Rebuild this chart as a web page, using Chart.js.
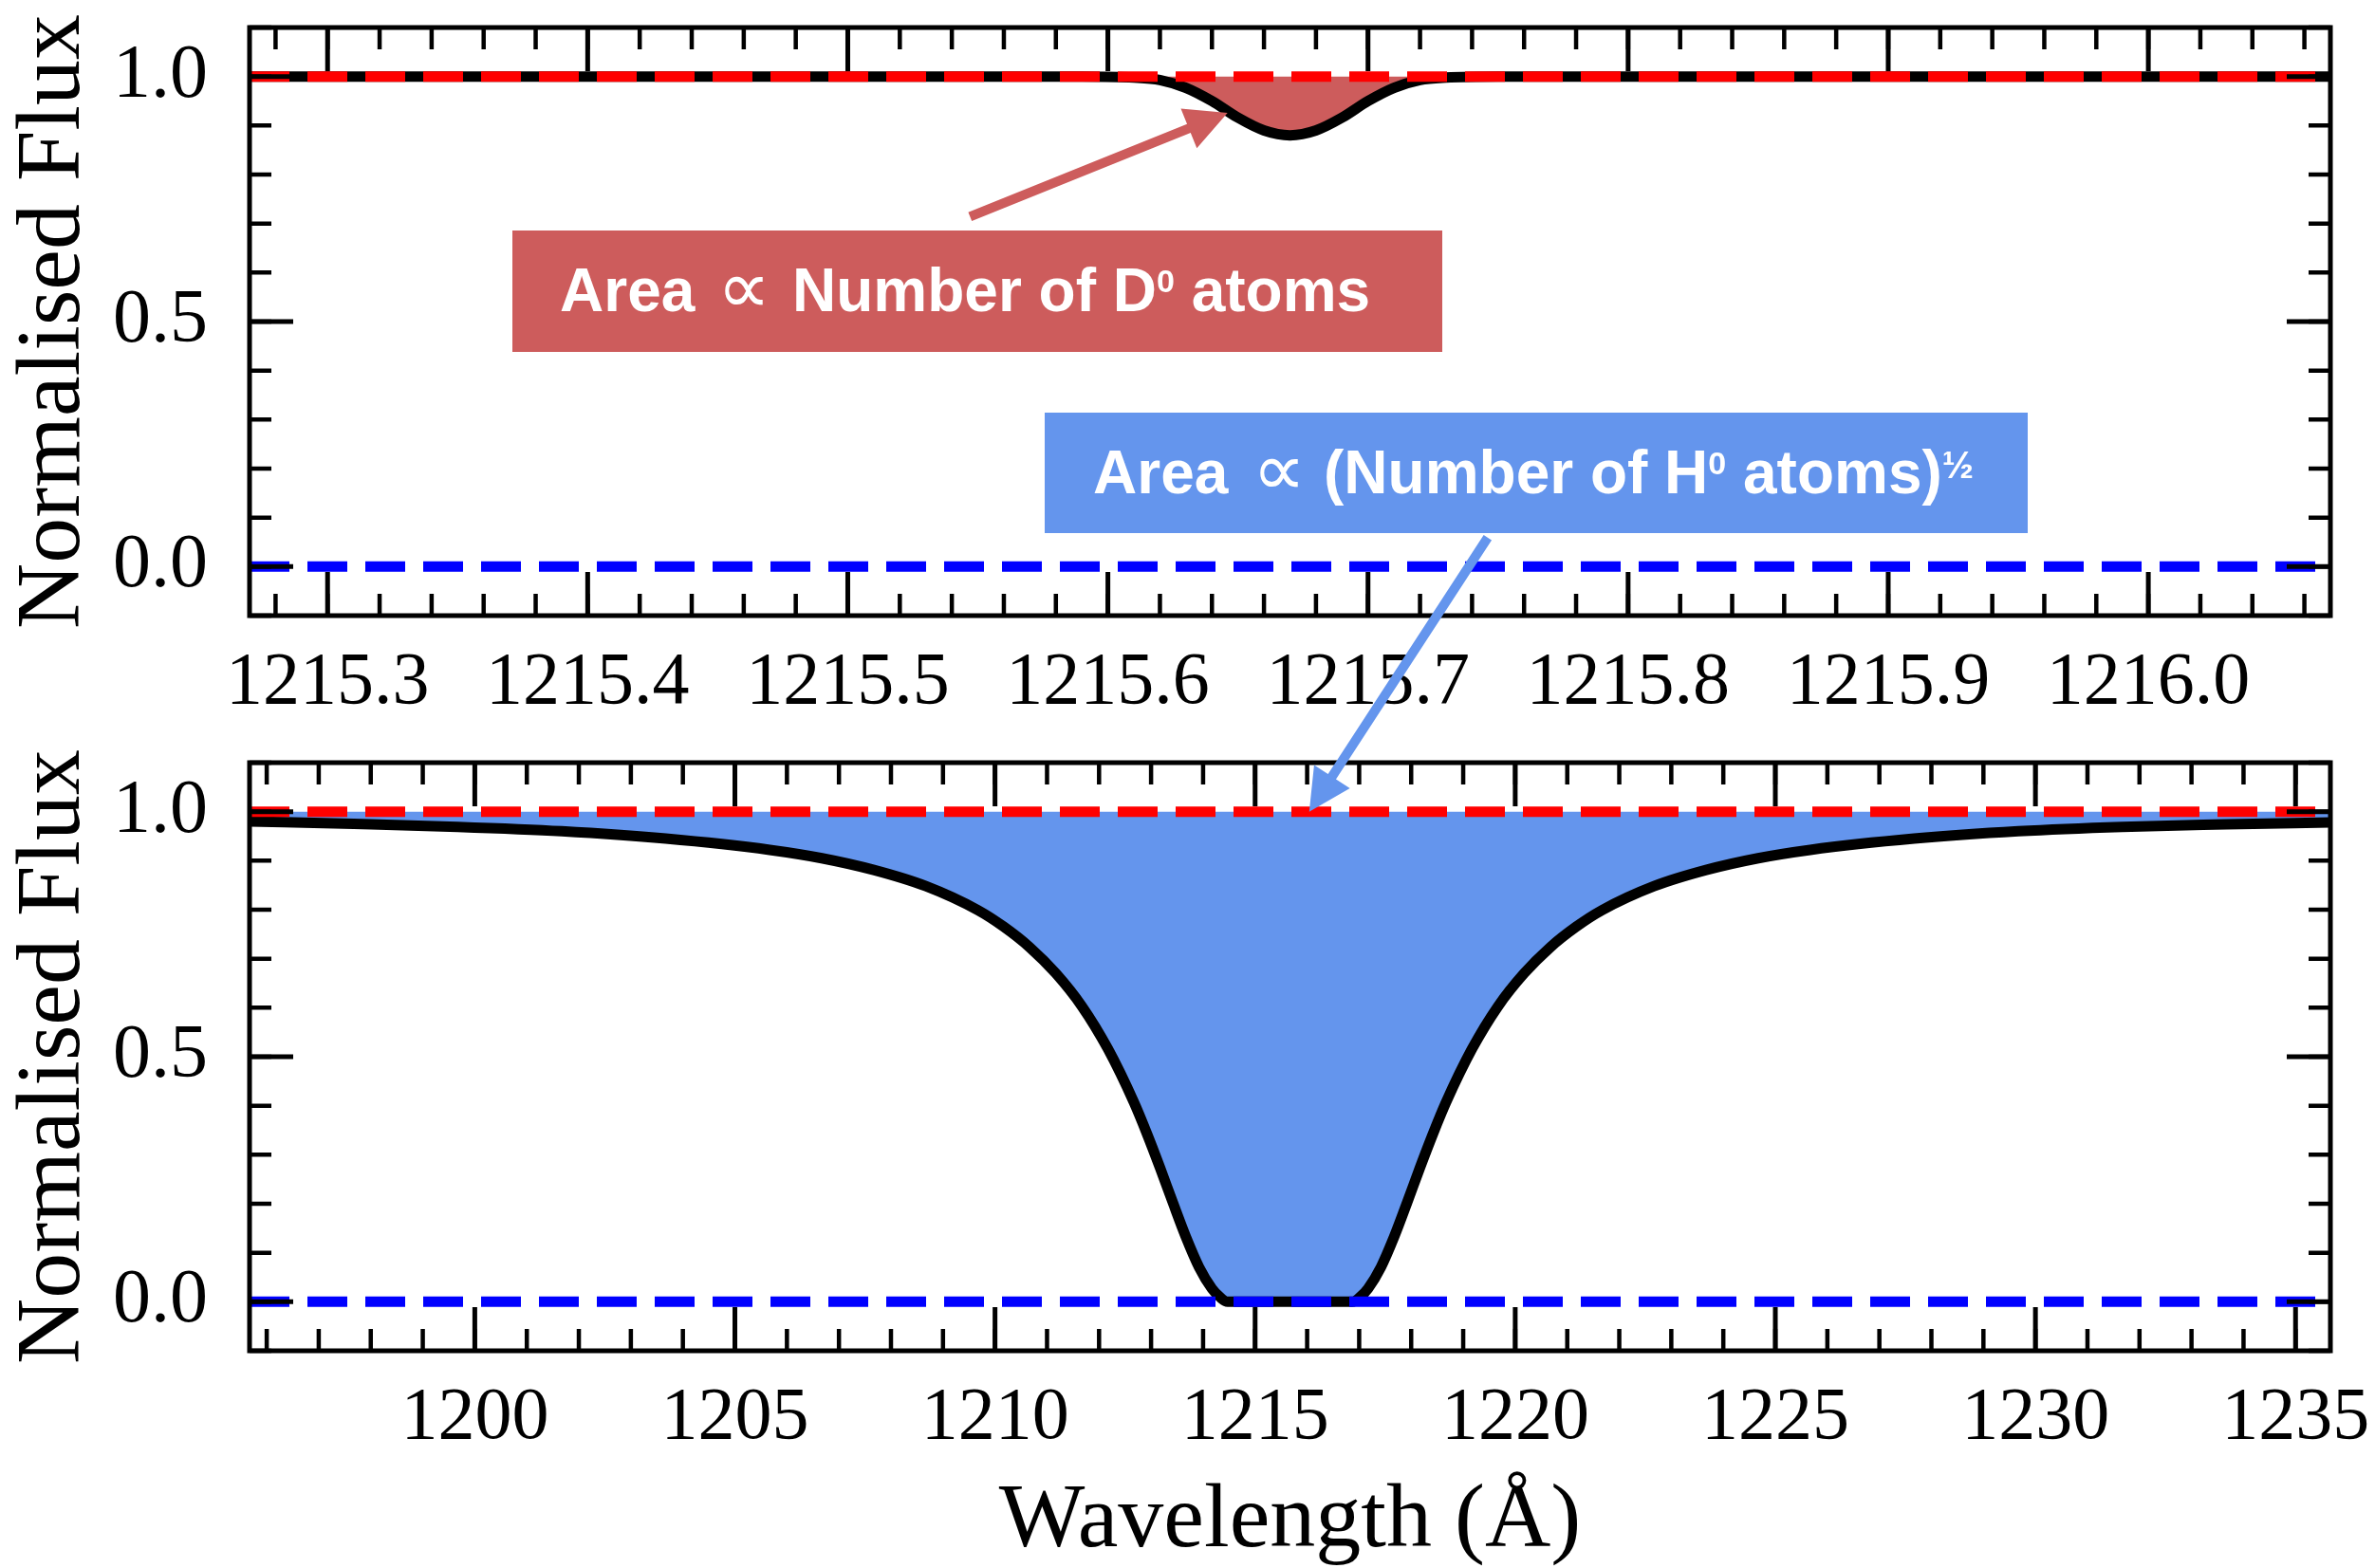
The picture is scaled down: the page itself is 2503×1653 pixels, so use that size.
<!DOCTYPE html>
<html lang="en">
<head>
<meta charset="UTF-8" />
<title>Lyman-alpha absorption: D and H</title>
<script src="https://cdn.jsdelivr.net/npm/chart.js@4"></script>
<style>
  body { margin: 0; background: #fff; }
  #wrap { position: relative; width: 2503px; height: 1653px; }
  canvas { position: absolute; left: 0; }
  #top { top: 0; }
  #bottom { top: 780px; }
  #notes { top: 0; pointer-events: none; }
</style>
</head>
<body>
<div id="wrap">
  <canvas id="top" width="2503" height="780"></canvas>
  <canvas id="bottom" width="2503" height="873"></canvas>
  <canvas id="notes" width="2503" height="1653"></canvas>
</div>

<script>
  // ---- values ----
  // top panel: deuterium line (narrow, shallow)
  const deutWave = [1215.27, 1215.59, 1215.61, 1215.62, 1215.63, 1215.64, 1215.65, 1215.66, 1215.67,
                    1215.68, 1215.69, 1215.70, 1215.71, 1215.72, 1215.73, 1215.75, 1216.07];
  const deutFlux = [1.000, 1.000, 0.998, 0.993, 0.977, 0.950, 0.916, 0.890, 0.880,
                    0.890, 0.916, 0.950, 0.977, 0.993, 0.998, 1.000, 1.000];

  // bottom panel: hydrogen line (saturated core, damping wings)
  const hydWave = [1195.67, 1197.67, 1199.67, 1201.67, 1203.67, 1205.67, 1206.67, 1207.67, 1208.67, 1209.67,
                   1210.17, 1210.67, 1211.17, 1211.67, 1212.17, 1212.67, 1212.92, 1213.17, 1213.42, 1213.67,
                   1213.92, 1214.17, 1214.32, 1214.47,
                   1216.87, 1217.02, 1217.17, 1217.42, 1217.67, 1217.92, 1218.17, 1218.42, 1218.67, 1219.17,
                   1219.67, 1220.17, 1220.67, 1221.17, 1221.67, 1222.67, 1223.67, 1224.67, 1225.67, 1227.67,
                   1229.67, 1231.67, 1233.67, 1235.67];
  const hydFlux = [0.980, 0.975, 0.969, 0.960, 0.945, 0.922, 0.905, 0.881, 0.848, 0.799,
                   0.765, 0.723, 0.670, 0.603, 0.516, 0.407, 0.343, 0.274, 0.202, 0.132,
                   0.071, 0.027, 0.010, 0.000,
                   0.000, 0.010, 0.027, 0.071, 0.132, 0.202, 0.274, 0.343, 0.407, 0.516,
                   0.603, 0.670, 0.723, 0.765, 0.799, 0.848, 0.881, 0.905, 0.922, 0.945,
                   0.960, 0.969, 0.974, 0.978];

  const continuumLevel = 1.0;
  const zeroLevel = 0.0;

  const topRange = [1215.27, 1216.07];
  const bottomRange = [1195.67, 1235.67];
  const fluxRange = [-0.1, 1.1];

  const topTicks = [1215.3, 1215.4, 1215.5, 1215.6, 1215.7, 1215.8, 1215.9, 1216.0];
  const topTickLabels = ['1215.3', '1215.4', '1215.5', '1215.6', '1215.7', '1215.8', '1215.9', '1216.0'];
  const bottomTicks = [1200, 1205, 1210, 1215, 1220, 1225, 1230, 1235];
  const bottomTickLabels = ['1200', '1205', '1210', '1215', '1220', '1225', '1230', '1235'];
  const fluxTicks = [0, 0.5, 1.0];
  const fluxTickLabels = ['0.0', '0.5', '1.0'];

  const topMinorStep = 0.02;
  const bottomMinorStep = 1;
  const fluxMinorStep = 0.1;

  // arrows, given in data coordinates of the panel they sit in
  const redArrow  = { from: ['top', 1215.547, 0.714], to: ['top', 1215.646, 0.926] };
  const blueArrow = { from: ['top', 1215.746, 0.059], to: ['bottom', 1216.04, 1.0] };

  const serif = "'Liberation Serif', 'DejaVu Serif', serif";
  const sans = "'Liberation Sans', Arial, sans-serif";

  // border + inward ticks on all four sides, drawn over the data like matplotlib does
  function framePlugin(xMinorStep) {
    return {
      id: 'frame',
      afterDraw(chart) {
        const { ctx, chartArea: a, scales: { x, y } } = chart;
        ctx.save();
        ctx.strokeStyle = '#000';
        ctx.lineCap = 'butt';

        function xTick(v, len, w) {
          const p = x.getPixelForValue(v);
          ctx.lineWidth = w;
          ctx.beginPath();
          ctx.moveTo(p, a.bottom); ctx.lineTo(p, a.bottom - len);
          ctx.moveTo(p, a.top); ctx.lineTo(p, a.top + len);
          ctx.stroke();
        }
        function yTick(v, len, w) {
          const p = y.getPixelForValue(v);
          ctx.lineWidth = w;
          ctx.beginPath();
          ctx.moveTo(a.left, p); ctx.lineTo(a.left + len, p);
          ctx.moveTo(a.right, p); ctx.lineTo(a.right - len, p);
          ctx.stroke();
        }

        for (let k = Math.ceil(x.min / xMinorStep - 1e-6); k <= Math.floor(x.max / xMinorStep + 1e-6); k++) xTick(k * xMinorStep, 23, 4.5);
        for (let k = Math.ceil(y.min / fluxMinorStep - 1e-6); k <= Math.floor(y.max / fluxMinorStep + 1e-6); k++) yTick(k * fluxMinorStep, 23, 4.5);
        x.ticks.forEach(t => xTick(t.value, 46, 5));
        y.ticks.forEach(t => yTick(t.value, 46, 5));

        ctx.lineWidth = 5;
        ctx.strokeRect(a.left, a.top, a.right - a.left, a.bottom - a.top);
        ctx.restore();
      }
    };
  }

  function refLine(range, level, color) {
    return {
      data: range.map(x => ({ x, y: level })),
      borderColor: color, borderWidth: 11, borderDash: [42, 19],
      pointRadius: 0, fill: false
    };
  }

  function makePanel(id, waves, flux, fillColor, range, ticks, labels, minorStep, padTop, axisH, xTitle) {
    return new Chart(document.getElementById(id), {
      type: 'line',
      data: {
        datasets: [
          refLine(range, continuumLevel, '#ff0000'),
          refLine(range, zeroLevel, '#0000ff'),
          {
            data: waves.map((w, i) => ({ x: w, y: flux[i] })),
            borderColor: '#000', borderWidth: 11, borderJoinStyle: 'round',
            cubicInterpolationMode: 'monotone', pointRadius: 0,
            fill: { value: continuumLevel }, backgroundColor: fillColor
          }
        ]
      },
      options: {
        responsive: false, animation: false, devicePixelRatio: 1, events: [],
        layout: { padding: { top: padTop, right: 47, left: 0, bottom: 0 } },
        plugins: { legend: { display: false }, tooltip: { enabled: false } },
        scales: {
          x: {
            type: 'linear', min: range[0], max: range[1],
            grid: { display: false }, border: { display: false },
            afterBuildTicks: s => { s.ticks = ticks.map(v => ({ value: v })); },
            afterFit: s => { s.height = axisH; s.paddingLeft = 0; s.paddingRight = 0; },
            ticks: {
              autoSkip: false, maxRotation: 0, padding: 17, color: '#000',
              font: { family: serif, size: 78 },
              callback: (v, i) => labels[i]
            },
            title: {
              display: !!xTitle, text: xTitle || '', color: '#000',
              font: { family: serif, size: 96, lineHeight: 1 }, padding: { top: 0, bottom: 0 }
            }
          },
          y: {
            min: fluxRange[0], max: fluxRange[1],
            grid: { display: false }, border: { display: false },
            afterBuildTicks: s => { s.ticks = fluxTicks.map(v => ({ value: v })); },
            afterFit: s => { s.width = 263; s.paddingTop = 0; s.paddingBottom = 0; },
            ticks: {
              autoSkip: false, padding: 36, color: '#000',
              font: { family: serif, size: 80 },
              callback: (v, i) => fluxTickLabels[i]
            },
            title: {
              display: true, text: 'Normalised Flux', color: '#000',
              font: { family: serif, size: 96 }, padding: { top: 0, bottom: 0 }
            }
          }
        }
      },
      plugins: [framePlugin(minorStep)]
    });
  }

  const topChart = makePanel('top', deutWave, deutFlux, '#cd5c5c', topRange, topTicks, topTickLabels,
                             topMinorStep, 29, 131, null);
  const bottomChart = makePanel('bottom', hydWave, hydFlux, '#6495ed', bottomRange, bottomTicks, bottomTickLabels,
                                bottomMinorStep, 24, 229, 'Wavelength (Å)');

  // ---- annotation layer (boxes, text, arrows) ----
  const panels = { top: { chart: topChart, dy: 0 }, bottom: { chart: bottomChart, dy: 780 } };

  function toPage([name, x, y]) {
    const p = panels[name];
    return { x: p.chart.scales.x.getPixelForValue(x), y: p.dy + p.chart.scales.y.getPixelForValue(y) };
  }

  function drawArrow(c, a, color) {
    const p0 = toPage(a.from), p1 = toPage(a.to);
    const dx = p1.x - p0.x, dy = p1.y - p0.y, L = Math.hypot(dx, dy);
    const ux = dx / L, uy = dy / L, nx = -uy, ny = ux;
    const headLen = 44, headHalf = 22.5, shaftHalf = 5;
    const bx = p1.x - ux * headLen, by = p1.y - uy * headLen;
    c.fillStyle = color;
    c.beginPath();
    c.moveTo(p0.x + nx * shaftHalf, p0.y + ny * shaftHalf);
    c.lineTo(bx + nx * shaftHalf, by + ny * shaftHalf);
    c.lineTo(bx + nx * headHalf, by + ny * headHalf);
    c.lineTo(p1.x, p1.y);
    c.lineTo(bx - nx * headHalf, by - ny * headHalf);
    c.lineTo(bx - nx * shaftHalf, by - ny * shaftHalf);
    c.lineTo(p0.x - nx * shaftHalf, p0.y - ny * shaftHalf);
    c.closePath();
    c.fill();
  }

  // the proportional sign, scaled so its ink is ~41px wide and centred on (cx, cy)
  function drawProp(c, cx, cy) {
    const family = "'DejaVu Sans', 'Liberation Sans', sans-serif";
    c.font = '50px ' + family;
    let m = c.measureText('∝');
    const ink = (m.actualBoundingBoxLeft + m.actualBoundingBoxRight) || 30;
    const size = Math.max(20, Math.min(120, 50 * 41 / ink));
    c.font = size.toFixed(1) + 'px ' + family;
    m = c.measureText('∝');
    const left = cx - (m.actualBoundingBoxRight - m.actualBoundingBoxLeft) / 2;
    const base = cy + (m.actualBoundingBoxAscent - m.actualBoundingBoxDescent) / 2;
    c.fillText('∝', left, base);
  }

  // draws text pieces one after another; a piece may carry its own x, font and raise
  function drawPieces(c, baseline, pieces) {
    let x = 0;
    c.fillStyle = '#fff';
    c.textBaseline = 'alphabetic';
    for (const p of pieces) {
      c.font = p.font;
      const w = c.measureText(p.t).width;
      if (p.x !== undefined) x = p.x;
      c.fillText(p.t, x, baseline + (p.dy || 0));
      x += w;
    }
  }

  function drawNotes() {
    const c = document.getElementById('notes').getContext('2d');
    const big = 'bold 64px ' + sans;
    const small = 'bold 34px ' + sans;

    c.fillStyle = '#cd5c5c';
    c.fillRect(540, 243, 980, 128);
    drawPieces(c, 328, [
      { t: 'Area', font: big, x: 590 },
      { t: 'Number of D', font: big, x: 835 },
      { t: '0', font: small, dy: -20 },
      { t: ' atoms', font: big }
    ]);
    drawProp(c, 784, 306);

    c.fillStyle = '#6495ed';
    c.fillRect(1101, 435, 1036, 127);
    drawPieces(c, 520, [
      { t: 'Area', font: big, x: 1152 },
      { t: '(Number of H', font: big, x: 1395 },
      { t: '0', font: small, dy: -20 },
      { t: ' atoms)', font: big },
      { t: '½', font: 'bold 40px ' + sans, dy: -16 }
    ]);
    drawProp(c, 1348, 498);

    drawArrow(c, redArrow, '#cd5c5c');
    drawArrow(c, blueArrow, '#6495ed');
  }

  drawNotes();
</script>
</body>
</html>
